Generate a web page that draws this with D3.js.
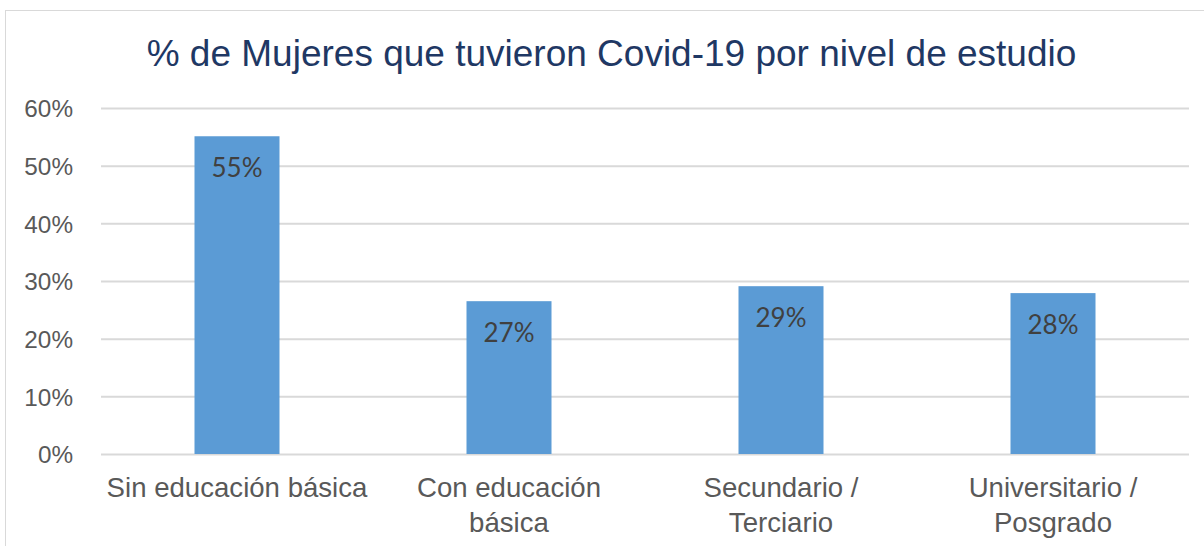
<!DOCTYPE html>
<html>
<head>
<meta charset="utf-8">
<script src="https://cdn.jsdelivr.net/npm/d3@7"></script>
<style>
  html, body { margin: 0; padding: 0; background: #fff; }
  svg { display: block; }
</style>
</head>
<body>
<svg id="chart" width="1204" height="546"></svg>
<script>
const title = "% de Mujeres que tuvieron Covid-19 por nivel de estudio";
const categories = [
  ["Sin educación básica"],
  ["Con educación", "básica"],
  ["Secundario /", "Terciario"],
  ["Universitario /", "Posgrado"]
];
const values = [0.551, 0.265, 0.291, 0.279];
const valueLabels = ["55%", "27%", "29%", "28%"];
const yTicks = [0, 0.1, 0.2, 0.3, 0.4, 0.5, 0.6];

const svg = d3.select("#chart");
const W = 1204, H = 546;
const plot = { left: 101, right: 1189, top: 108, bottom: 454 };

// chart frame (extends past the visible area on right/bottom)
svg.append("rect")
  .attr("x", 5.5).attr("y", 10.5)
  .attr("width", W + 20).attr("height", H + 20)
  .attr("fill", "#fff").attr("stroke", "#d9d9d9").attr("stroke-width", 1);

svg.append("text")
  .attr("x", 611.5).attr("y", 65.7)
  .attr("text-anchor", "middle")
  .attr("font-family", "Liberation Sans, Arial, sans-serif")
  .attr("font-size", 37)
  .attr("fill", "#1f3864")
  .text(title);

const x = d3.scaleBand()
  .domain(d3.range(categories.length))
  .range([plot.left, plot.right])
  .padding(0);

const y = d3.scaleLinear()
  .domain([0, 0.6])
  .range([plot.bottom, plot.top]);

// gridlines + y axis
const yAxis = d3.axisLeft(y)
  .tickValues(yTicks)
  .tickFormat(d3.format(".0%"))
  .tickSize(-(plot.right - plot.left))
  .tickPadding(28);

const gy = svg.append("g")
  .attr("transform", `translate(${plot.left},0)`)
  .call(yAxis);
gy.select(".domain").remove();
gy.selectAll(".tick line").attr("stroke", "#d9d9d9").attr("stroke-width", 2);
gy.selectAll(".tick text")
  .attr("font-family", "Liberation Sans, Arial, sans-serif")
  .attr("font-size", 24.3)
  .attr("fill", "#595959")
  .attr("dy", "0.36em");

// bars
const barFrac = 0.3125;
const bw = x.bandwidth() * barFrac;
svg.append("g").selectAll("rect")
  .data(values)
  .join("rect")
  .attr("x", (d, i) => x(i) + (x.bandwidth() - bw) / 2)
  .attr("y", d => y(d))
  .attr("width", bw)
  .attr("height", d => y(0) - y(d))
  .attr("fill", "#5b9bd5");

// data labels
svg.append("g").selectAll("text")
  .data(values)
  .join("text")
  .attr("x", (d, i) => x(i) + x.bandwidth() / 2)
  .attr("y", d => y(d) + 41)
  .attr("text-anchor", "middle")
  .attr("font-family", "Lato, 'Open Sans', sans-serif")
  .attr("font-size", 26)
  .attr("fill", "#404040")
  .text((d, i) => valueLabels[i]);

// category labels
const gx = svg.append("g");
categories.forEach((lines, i) => {
  const t = gx.append("text")
    .attr("x", x(i) + x.bandwidth() / 2)
    .attr("y", 497.3)
    .attr("text-anchor", "middle")
    .attr("font-family", "Liberation Sans, Arial, sans-serif")
    .attr("font-size", 27.6)
    .attr("fill", "#595959");
  lines.forEach((ln, j) => {
    t.append("tspan")
      .attr("x", x(i) + x.bandwidth() / 2)
      .attr("dy", j === 0 ? 0 : 34.7)
      .text(ln);
  });
});
</script>
</body>
</html>
